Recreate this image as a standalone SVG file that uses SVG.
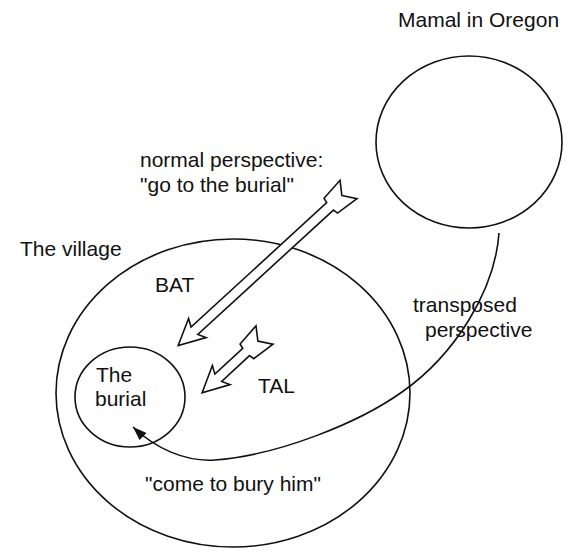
<svg xmlns="http://www.w3.org/2000/svg" width="566" height="557" viewBox="0 0 566 557">
<style>
.ring{fill:none;stroke:#111;stroke-width:1.6}
.lbl{font-family:"Liberation Sans",Arial,sans-serif;font-size:21px;fill:#111}
.fat{fill:#fff;stroke:#111;stroke-width:1.6;stroke-linejoin:miter}
.conn{fill:none;stroke:#111;stroke-width:1.6}
</style>
<defs>
<marker id="tri" markerUnits="userSpaceOnUse" markerWidth="16" markerHeight="12" refX="14" refY="5" orient="auto">
<path d="M0,0 L14,5 L0,10 Z" fill="#111"/>
</marker>
</defs>
<rect width="566" height="557" fill="#fff"/>
<g id="mamal">
<ellipse class="ring" cx="469" cy="142" rx="93" ry="86"/>
<text class="lbl" x="398" y="27">Mamal in Oregon</text>
</g>
<g id="village">
<ellipse class="ring" cx="233" cy="393" rx="177" ry="154"/>
<text class="lbl" x="20" y="256">The village</text>
<text class="lbl" x="155" y="292">BAT</text>
<text class="lbl" x="258" y="393">TAL</text>
<text class="lbl" x="145" y="491">"come to bury him"</text>
</g>
<g id="burial">
<ellipse class="ring" cx="130" cy="397" rx="55" ry="50"/>
<text class="lbl" x="96" y="382">The</text>
<text class="lbl" x="95" y="406">burial</text>
</g>
<g id="normal-label">
<text class="lbl" x="140" y="167">normal perspective:</text>
<text class="lbl" x="140" y="192">"go to the burial"</text>
</g>
<g id="transposed-label">
<text class="lbl" x="413" y="312">transposed</text>
<text class="lbl" x="425" y="337">perspective</text>
</g>
<g id="connectors">
<path class="fat" transform="translate(348.5,189.5) rotate(137.5)" d="M9 0 L0 -12.5 L24 -10 L25 -5 L209 -5 L205 -13 L231 0 L205 13 L209 5 L25 5 L24 10 L0 12.5 Z"/>
<path class="fat" transform="translate(264.5,335) rotate(137.2)" d="M9 0 L0 -12.5 L24 -10 L25 -5 L63 -5 L59 -13 L85 0 L59 13 L63 5 L25 5 L24 10 L0 12.5 Z"/>
<path class="conn" marker-end="url(#tri)" d="M499 233 C495 290 455 355 402 392 C360 422 280 455 215 460 C185 462 155 448 133 427"/>
</g>
</svg>
